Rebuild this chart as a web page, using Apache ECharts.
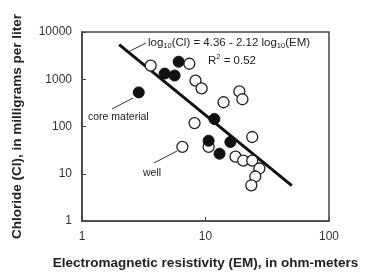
<!DOCTYPE html>
<html>
<head>
<meta charset="utf-8">
<script src="https://cdn.jsdelivr.net/npm/echarts@6/dist/echarts.min.js"></script>
<style>
html, body { margin: 0; padding: 0; background: #fff; }
#main { width: 368px; height: 275px; }
</style>
</head>
<body>
<div id="main"></div>
<script>
// well samples (open circles)
var wellEM = [3.6, 7.4, 8.3, 9.3, 18.8, 19.9, 14.0, 8.15, 6.5, 23.9, 10.6, 17.5, 20.2, 23.9, 27.3, 25.3, 23.5];
var wellCl = [1940, 2130, 935, 640, 553, 377, 326, 118, 37, 60, 37, 23, 18.9, 18.9, 12.9, 8.75, 5.7];
// core material (filled)
var coreEM = [2.88, 6.06, 4.67, 5.62, 11.8, 10.6, 15.9, 13.0];
var coreCl = [527, 2350, 1320, 1200, 144, 50, 47, 26.6];
// regression line end points
var fitEM = [2.0, 50];
var fitCl = [5400, 5.6];

function pairs(xs, ys) {
    var out = [];
    for (var i = 0; i < xs.length; i++) out.push([xs[i], ys[i]]);
    return out;
}

var txt = '#222';
var font = 'Liberation Sans, Arial, sans-serif';

var chart = echarts.init(document.getElementById('main'));
chart.setOption({
    animation: false,
    backgroundColor: '#fff',
    grid: {
        left: 82, right: 39, top: 32, bottom: 52,
        show: true, borderColor: '#444', borderWidth: 1.5
    },
    xAxis: {
        type: 'log', logBase: 10, min: 1, max: 100,
        name: 'Electromagnetic resistivity (EM), in ohm-meters',
        nameLocation: 'middle', nameGap: 35,
        nameTextStyle: { fontFamily: font, fontWeight: 'bold', fontSize: 13.5, color: txt },
        axisLine: { lineStyle: { color: '#444', width: 1.5 } },
        axisTick: { inside: true, length: 4, lineStyle: { color: '#444' } },
        minorTick: { show: false },
        splitLine: { show: false },
        axisLabel: {
            margin: 10, fontFamily: font, fontSize: 12, color: '#333',
            formatter: function (v) { return String(Math.round(v)); }
        }
    },
    yAxis: {
        type: 'log', logBase: 10, min: 1, max: 10000,
        name: 'Chloride (Cl), in milligrams per liter',
        nameLocation: 'middle', nameGap: 58,
        nameTextStyle: { fontFamily: font, fontWeight: 'bold', fontSize: 13.5, color: txt },
        axisLine: { lineStyle: { color: '#444', width: 1.5 } },
        axisTick: { inside: true, length: 4, lineStyle: { color: '#444' } },
        splitLine: { show: false },
        axisLabel: {
            margin: 10, fontFamily: font, fontSize: 12, color: '#333',
            formatter: function (v) { return String(Math.round(v)); }
        }
    },
    series: [{
        type: 'line',
        data: pairs(fitEM, fitCl),
        symbol: 'none',
        lineStyle: { color: '#111', width: 3 },
        z: 2
    }, {
        type: 'scatter',
        data: pairs(wellEM, wellCl),
        symbolSize: 11,
        itemStyle: { color: '#fff', borderColor: '#222', borderWidth: 1.3, opacity: 1 },
        z: 3
    }, {
        type: 'scatter',
        data: pairs(coreEM, coreCl),
        symbolSize: 11,
        itemStyle: { color: '#111', borderColor: '#111', borderWidth: 1, opacity: 1 },
        z: 4
    }],
    graphic: [{
        type: 'text', left: 148, top: 36, z: 10,
        style: {
            text: '{a|log}{s|10}{a|(Cl) = 4.36 - 2.12 log}{s|10}{a|(EM)}',
            rich: {
                a: { fontFamily: font, fontSize: 11.5, fill: txt, lineHeight: 15, verticalAlign: 'middle' },
                s: { fontFamily: font, fontSize: 7.5, fill: txt, lineHeight: 15, verticalAlign: 'bottom', padding: [6, 0, 0, 0] }
            }
        }
    }, {
        type: 'text', left: 208, top: 53, z: 10,
        style: {
            text: '{a|R}{p|2}{a| = 0.52}',
            rich: {
                a: { fontFamily: font, fontSize: 11.5, fill: txt, lineHeight: 15, verticalAlign: 'middle' },
                p: { fontFamily: font, fontSize: 7.5, fill: txt, lineHeight: 15, verticalAlign: 'top', padding: [0, 0, 6, 0] }
            }
        }
    }, {
        type: 'line', z: 10,
        shape: { x1: 130, y1: 51, x2: 146, y2: 43 },
        style: { stroke: '#333', lineWidth: 1 }
    }, {
        type: 'text', left: 88, top: 112, z: 10,
        style: { text: 'core material', fontFamily: font, fontSize: 10.5, fill: txt }
    }, {
        type: 'line', z: 10,
        shape: { x1: 112, y1: 109, x2: 133, y2: 98 },
        style: { stroke: '#333', lineWidth: 1 }
    }, {
        type: 'text', left: 143, top: 168, z: 10,
        style: { text: 'well', fontFamily: font, fontSize: 10.5, fill: txt }
    }, {
        type: 'line', z: 10,
        shape: { x1: 154, y1: 163, x2: 177, y2: 151 },
        style: { stroke: '#333', lineWidth: 1 }
    }]
});
</script>
</body>
</html>
